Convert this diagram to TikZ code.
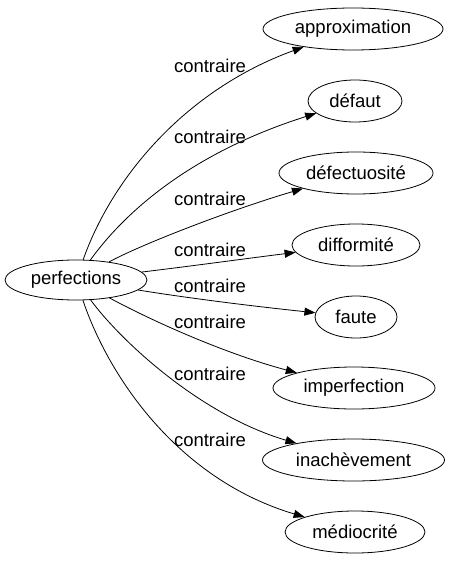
\documentclass[tikz,border=0pt]{standalone}
\usepackage{fontspec}
\setmainfont{Liberation Sans}
\usetikzlibrary{arrows.meta,shapes.geometric}
\begin{document}
\begin{tikzpicture}[x=1bp,y=-1bp,
  every node/.style={font=\fontsize{18.5bp}{22bp}\selectfont},
  term/.style={draw, ellipse, line width=0.8bp, inner sep=0pt, minimum height=42bp},
  lbl/.style={inner sep=0pt},
  rel/.style={line width=0.8bp, -{Triangle[length=11bp,width=8bp]}}]
\useasboundingbox (0,0) rectangle (451,563);
\node[term, minimum width=142bp, minimum height=40bp] (p) at (76,280) {perfections};
\node[term, minimum width=180bp] (a) at (353,29) {approximation};
\node[term, minimum width=94bp] (d) at (355,101) {défaut};
\node[term, minimum width=154bp] (dc) at (356,173) {défectuosité};
\node[term, minimum width=128bp] (df) at (356,245) {difformité};
\node[term, minimum width=82bp] (f) at (356,317) {faute};
\node[term, minimum width=162bp] (i) at (354,388) {imperfection};
\node[term, minimum width=182bp] (in) at (353.5,460) {inachèvement};
\node[term, minimum width=140bp] (m) at (355,532) {médiocrité};
\node[lbl] (l1) at (210,66) {contraire};
\node[lbl] (l2) at (210,137) {contraire};
\node[lbl] (l3) at (210,199) {contraire};
\node[lbl] (l4) at (210,250) {contraire};
\node[lbl] (l5) at (210,286) {contraire};
\node[lbl] (l6) at (210,322) {contraire};
\node[lbl] (l7) at (210,374) {contraire};
\node[lbl] (l8) at (210,440) {contraire};
\draw[rel] (p) .. controls (112,178) and (185,90) .. (a);
\draw[rel] (p) .. controls (130,205) and (200,150) .. (d);
\draw[rel] (p) .. controls (140,245) and (230,210) .. (dc);
\draw[rel] (p) .. controls (200,265) and (250,258) .. (df);
\draw[rel] (p) .. controls (200,300) and (270,308) .. (f);
\draw[rel] (p) .. controls (160,325) and (230,355) .. (i);
\draw[rel] (p) .. controls (120,340) and (200,415) .. (in);
\draw[rel] (p) .. controls (110,380) and (180,480) .. (m);
\end{tikzpicture}
\end{document}
